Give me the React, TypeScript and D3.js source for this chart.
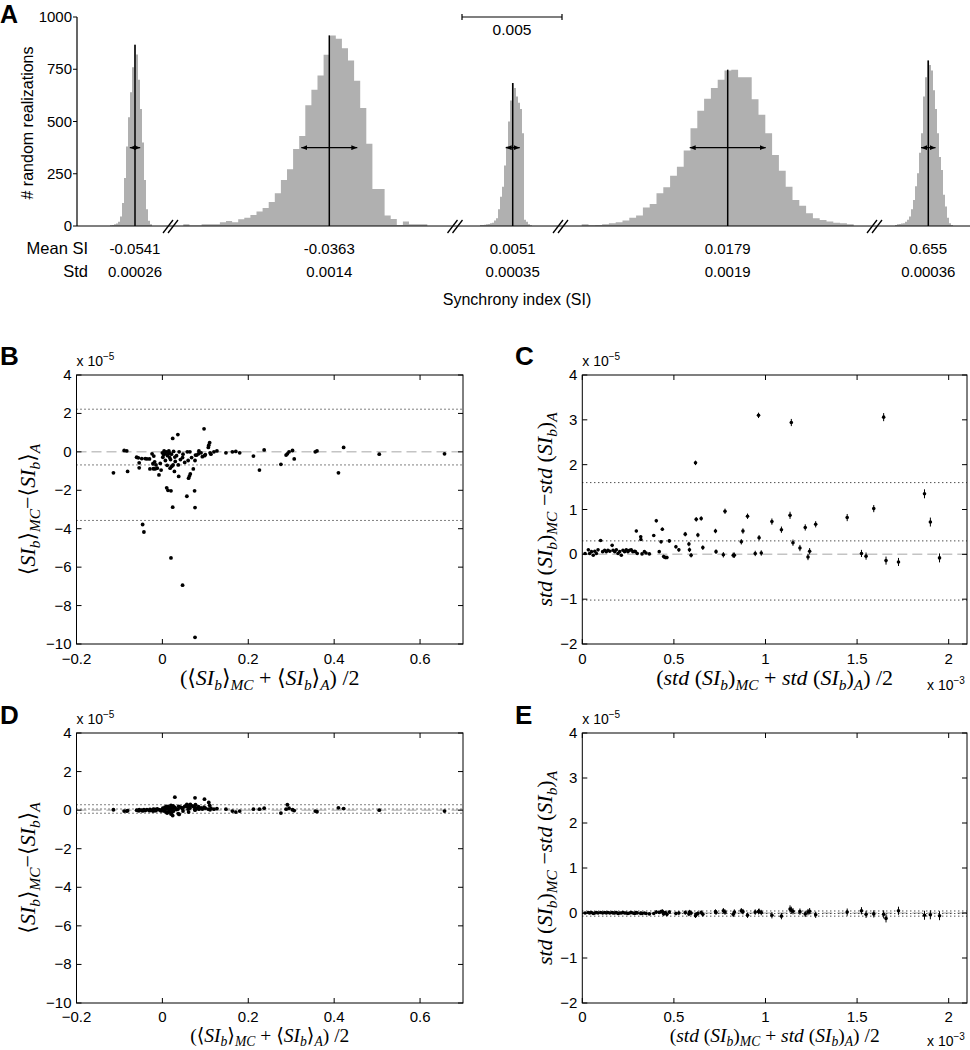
import React from 'react';
import * as d3 from 'd3';

// ---------------- Panel A data ----------------
const histMeans = [-0.0541, -0.0363, 0.0051, 0.0179, 0.655];
const histStds = [0.00026, 0.0014, 0.00035, 0.0019, 0.00036];
const histMeanLabels = ['-0.0541', '-0.0363', '0.0051', '0.0179', '0.655'];
const histStdLabels = ['0.00026', '0.0014', '0.00035', '0.0019', '0.00036'];
const binStarts = [-0.05535, -0.0436, 0.003465, 0.0106, 0.653335];
const binWidths = [0.0001, 0.000305, 0.0001, 0.00034, 0.0001];
const counts1 = [3, 5, 8, 12, 20, 45, 110, 230, 380, 520, 640, 760, 867, 820, 700, 560, 400, 220, 80, 25, 8];
const counts2 = [8, 2, 2, 8, 8, 8, 18, 24, 18, 32, 40, 53, 69, 86, 115, 157, 220, 272, 369, 431, 578, 652, 720, 819, 912, 896, 851, 792, 695, 564, 393, 177, 177, 50, 34, 5, 21, 8, 8, 8];
const counts3 = [5, 5, 6, 8, 10, 13, 16, 26, 37, 80, 140, 188, 290, 380, 500, 600, 684, 660, 620, 590, 560, 444, 30, 20, 8, 3];
const counts4 = [8, 3, 5, 8, 13, 18, 26, 40, 50, 89, 105, 157, 185, 241, 284, 361, 468, 551, 609, 660, 700, 744, 748, 712, 712, 607, 532, 444, 340, 264, 188, 125, 97, 61, 37, 29, 21, 16, 13, 8];
const counts5 = [5, 8, 10, 12, 13, 20, 30, 45, 80, 125, 190, 252, 350, 444, 620, 712, 792, 770, 744, 650, 560, 444, 330, 268, 150, 93, 40, 13, 5];
const histCounts = [counts1, counts2, counts3, counts4, counts5];
const countTicks = [0, 250, 500, 750, 1000];
const arrowLevel = 375;
const scaleBarValue = 0.005;

// ---------------- Panels B / D data: [mean avg, diff (B), diff corrected (D)] ----------------
const meanAvg = [-0.114, -0.089, -0.083, -0.081, -0.060, -0.056, -0.054, -0.054, -0.048, -0.046, -0.043, -0.040, -0.036, -0.030, -0.029, -0.024, -0.022, -0.021, -0.020, -0.018, -0.017, -0.015, -0.012, -0.008, 0.001, 0.004, 0.006, 0.007, 0.009, 0.010, 0.011, 0.013, 0.013, 0.015, 0.017, 0.018, 0.020, 0.020, 0.021, 0.024, 0.024, 0.025, 0.026, 0.028, 0.029, 0.036, 0.037, 0.038, 0.039, 0.047, 0.047, 0.048, 0.057, 0.058, 0.060, 0.061, 0.063, 0.064, 0.065, 0.072, 0.075, 0.076, 0.076, 0.076, 0.077, 0.080, 0.084, 0.085, 0.097, 0.098, 0.100, 0.107, 0.108, 0.110, 0.111, 0.113, 0.120, 0.127, 0.148, 0.163, 0.171, 0.180, 0.212, 0.226, 0.237, 0.276, 0.288, 0.291, 0.295, 0.303, 0.307, 0.356, 0.360, 0.410, 0.422, 0.505, 0.657, 0.003, 0.012, 0.016, 0.019, 0.022, 0.030, 0.033, 0.042, 0.052, 0.068, 0.090, 0.093, -0.005, -0.003, 0.000];
const meanDiffRaw = [-1.09, 0.07, 0.05, -1.02, -0.28, -0.31, -0.57, -0.83, -0.35, -3.78, -4.17, -0.35, -0.37, -0.37, -0.89, -0.10, -0.62, -0.88, -0.22, -0.52, -0.89, -0.68, -0.85, -1.20, -0.28, 0.05, -0.10, -0.45, 0.00, -1.87, -0.70, -2.00, -0.12, 0.05, -0.30, -0.85, -5.52, -2.03, -0.12, -2.88, 0.70, -0.68, 0.02, -1.02, -0.27, 0.90, -0.68, -1.28, 0.00, -6.94, -0.30, -0.12, -2.31, 0.00, -0.45, -1.37, -1.26, 0.00, -1.15, -0.89, -2.03, -2.90, -9.65, -0.45, -0.17, -0.17, -0.10, 0.05, 1.20, -0.20, -0.15, 0.23, 0.35, 0.48, -0.05, -0.12, 0.00, 0.05, -0.05, 0.00, 0.02, -0.05, -0.22, -0.95, 0.10, -0.65, -0.17, -0.10, 0.00, 0.07, -0.37, 0.00, 0.05, -1.09, 0.23, -0.12, -0.10, -0.15, -0.20, -0.05, -0.40, -0.75, -0.50, -0.20, -0.40, -0.55, -0.30, -0.05, -0.25, -0.60, -0.95, -0.05];
const meanDiffCorr = [0.02, -0.05, -0.05, -0.03, 0.00, -0.03, 0.02, -0.02, 0.00, -0.04, 0.03, -0.02, 0.02, -0.03, 0.04, 0.00, -0.05, 0.05, 0.02, -0.02, 0.04, -0.03, 0.06, 0.03, 0.10, -0.05, 0.15, 0.05, -0.10, 0.20, -0.15, 0.18, 0.08, -0.08, 0.12, 0.02, -0.20, 0.25, -0.12, -0.28, 0.10, 0.22, -0.05, 0.15, 0.67, 0.05, -0.18, 0.20, -0.22, 0.08, 0.12, -0.05, 0.30, 0.18, 0.05, -0.10, 0.25, 0.10, 0.30, 0.20, 0.15, 0.05, 0.00, 0.64, 0.28, 0.10, 0.18, 0.05, 0.15, 0.57, 0.10, 0.05, 0.40, 0.25, 0.02, 0.10, 0.05, 0.08, 0.05, -0.05, -0.10, -0.05, 0.05, 0.05, 0.10, -0.15, 0.05, 0.28, 0.10, 0.02, -0.02, -0.05, -0.08, 0.12, 0.08, 0.00, -0.05, 0.05, -0.10, 0.08, 0.12, -0.06, 0.10, 0.03, 0.15, 0.20, 0.22, 0.12, 0.06, 0.00, -0.04, 0.02];
const meanLimitsB = [2.22, -0.68, -3.57];
const meanLimitsD = [0.28, 0.06, -0.16];

// ---------------- Panels C / E data ----------------
const stdAvg = [0.015, 0.033, 0.04, 0.05, 0.06, 0.068, 0.077, 0.086, 0.10, 0.111, 0.122, 0.131, 0.14, 0.15, 0.163, 0.168, 0.177, 0.186, 0.195, 0.204, 0.213, 0.222, 0.231, 0.24, 0.249, 0.258, 0.267, 0.276, 0.285, 0.29, 0.295, 0.30, 0.319, 0.32, 0.326, 0.339, 0.348, 0.366, 0.39, 0.404, 0.42, 0.43, 0.437, 0.444, 0.453, 0.462, 0.475, 0.511, 0.527, 0.562, 0.582, 0.585, 0.594, 0.618, 0.622, 0.631, 0.649, 0.658, 0.727, 0.73, 0.77, 0.779, 0.824, 0.83, 0.868, 0.877, 0.902, 0.944, 0.962, 0.965, 0.977, 1.035, 1.087, 1.134, 1.141, 1.15, 1.188, 1.217, 1.232, 1.241, 1.274, 1.446, 1.524, 1.549, 1.591, 1.645, 1.658, 1.726, 1.868, 1.90, 1.95];
const stdDiffRaw = [0.02, 0.10, 0.02, 0.06, -0.02, 0.07, 0.02, 0.10, 0.31, 0.06, 0.09, 0.06, 0.09, 0.07, 0.20, 0.09, 0.06, 0.10, 0.02, 0.06, -0.02, 0.09, 0.06, 0.10, 0.06, 0.09, 0.10, 0.06, 0.07, 0.06, 0.52, 0.02, 0.39, 0.33, 0.01, 0.06, 0.03, 0.01, 0.42, 0.75, 0.06, 0.28, 0.56, -0.05, -0.07, -0.07, 0.30, 0.17, 0.10, 0.45, 0.23, 0.10, -0.02, 2.04, 0.78, 0.43, 0.80, 0.15, 0.52, 0.06, -0.01, 0.96, -0.02, -0.02, 0.28, 0.52, 0.85, 0.02, 3.10, 0.37, 0.03, 0.73, 0.55, 0.87, 2.94, 0.26, 0.14, 0.60, -0.06, 0.07, 0.67, 0.82, 0.02, -0.04, 1.02, 3.06, -0.14, -0.17, 1.35, 0.72, -0.08];
const stdDiffCorr = [0.00, 0.01, 0.00, 0.01, -0.01, 0.00, 0.01, 0.00, 0.01, 0.00, 0.01, 0.00, 0.01, 0.00, 0.01, 0.00, 0.00, 0.01, -0.01, 0.00, 0.00, 0.01, 0.00, 0.00, -0.01, 0.00, 0.01, 0.00, -0.01, 0.00, 0.01, 0.00, -0.01, 0.00, -0.01, 0.00, -0.01, -0.02, -0.01, 0.02, 0.01, 0.03, 0.04, -0.02, 0.01, -0.03, 0.02, -0.01, 0.00, 0.01, -0.02, 0.02, 0.00, -0.06, -0.03, -0.01, 0.01, -0.03, 0.03, 0.01, 0.05, 0.02, -0.03, 0.02, 0.05, 0.03, -0.05, 0.02, 0.03, 0.04, 0.01, -0.05, -0.07, 0.09, 0.06, 0.04, 0.03, -0.02, 0.02, 0.04, -0.04, 0.02, 0.05, -0.03, -0.02, -0.03, -0.12, 0.05, -0.05, -0.04, -0.06];
const stdErr = [0.02, 0.02, 0.02, 0.02, 0.02, 0.02, 0.02, 0.02, 0.02, 0.02, 0.02, 0.02, 0.02, 0.02, 0.02, 0.02, 0.02, 0.02, 0.02, 0.02, 0.02, 0.02, 0.02, 0.02, 0.02, 0.02, 0.02, 0.02, 0.02, 0.02, 0.03, 0.02, 0.03, 0.03, 0.02, 0.02, 0.02, 0.02, 0.03, 0.04, 0.03, 0.04, 0.04, 0.04, 0.04, 0.04, 0.04, 0.04, 0.04, 0.05, 0.05, 0.05, 0.05, 0.05, 0.05, 0.05, 0.05, 0.05, 0.05, 0.05, 0.06, 0.06, 0.06, 0.06, 0.06, 0.06, 0.06, 0.06, 0.06, 0.06, 0.06, 0.07, 0.07, 0.08, 0.08, 0.07, 0.07, 0.07, 0.07, 0.07, 0.07, 0.08, 0.08, 0.08, 0.08, 0.09, 0.09, 0.09, 0.10, 0.10, 0.10];
const stdLimitsC = [1.6, 0.3, -1.02];
const stdLimitsE = [0.045, -0.012, -0.07];

// ---------------- tick values ----------------
const meanXTicks = [-0.2, 0, 0.2, 0.4, 0.6];
const meanYTicks = [-10, -8, -6, -4, -2, 0, 2, 4];
const stdXTicks = [0, 0.5, 1, 1.5, 2];
const stdYTicks = [-2, -1, 0, 1, 2, 3, 4];

// ---------------- label parts ----------------
type Part = { t: string; it?: boolean; sub?: boolean };
const SIb: Part[] = [{ t: 'SI', it: true }, { t: 'b', it: true, sub: true }];
const meanDiffParts: Part[] = [{ t: '⟨' }, ...SIb, { t: '⟩' }, { t: 'MC', it: true, sub: true }, { t: '−' }, { t: '⟨' }, ...SIb, { t: '⟩' }, { t: 'A', it: true, sub: true }];
const meanAvgParts: Part[] = [{ t: '(⟨' }, ...SIb, { t: '⟩' }, { t: 'MC', it: true, sub: true }, { t: ' + ⟨' }, ...SIb, { t: '⟩' }, { t: 'A', it: true, sub: true }, { t: ') /2' }];
const stdDiffParts: Part[] = [{ t: 'std', it: true }, { t: ' (' }, ...SIb, { t: ')' }, { t: 'MC', it: true, sub: true }, { t: ' −' }, { t: 'std', it: true }, { t: ' (' }, ...SIb, { t: ')' }, { t: 'A', it: true, sub: true }];
const stdAvgParts: Part[] = [{ t: '(' }, { t: 'std', it: true }, { t: ' (' }, ...SIb, { t: ')' }, { t: 'MC', it: true, sub: true }, { t: ' + ' }, { t: 'std', it: true }, { t: ' (' }, ...SIb, { t: ')' }, { t: 'A', it: true, sub: true }, { t: ') /2' }];

const SANS = "'Liberation Sans', Arial, Helvetica, sans-serif";
const SERIF = "'Liberation Serif', 'DejaVu Serif', 'Times New Roman', serif";
const fmt = (v: number) => (v < 0 ? '−' + String(-v) : String(v));

function MathLabel({ parts, size, x, y, rotate, subShift = 0.24 }: { parts: Part[]; size: number; x: number; y: number; rotate?: boolean; subShift?: number }) {
  let cur = 0;
  const spans = parts.map((p, i) => {
    const target = p.sub ? size * subShift : 0;
    const dy = target - cur;
    cur = target;
    return (
      <tspan key={i} dy={dy} fontStyle={p.it ? 'italic' : 'normal'} fontSize={p.sub ? size * 0.7 : size}>
        {p.t}
      </tspan>
    );
  });
  return (
    <text
      transform={`translate(${x},${y})${rotate ? ' rotate(-90)' : ''}`}
      textAnchor="middle"
      fontFamily={SERIF}
      fontSize={size}
      style={{ whiteSpace: 'pre' }}
    >
      {spans}
    </text>
  );
}

type Box = { left: number; right: number; top: number; bottom: number };

function Frame({ box, xs, ys, xTicks, yTicks, labelGap = 20 }: { box: Box; xs: d3.ScaleLinear<number, number>; ys: d3.ScaleLinear<number, number>; xTicks: number[]; yTicks: number[]; labelGap?: number }) {
  const { left, right, top, bottom } = box;
  const tl = 5;
  return (
    <g fontFamily={SANS} fontSize={15}>
      <rect x={left} y={top} width={right - left} height={bottom - top} fill="none" stroke="#000" strokeWidth={1} />
      {xTicks.map((t) => (
        <g key={'x' + t}>
          <line x1={xs(t)} x2={xs(t)} y1={bottom} y2={bottom - tl} stroke="#000" />
          <line x1={xs(t)} x2={xs(t)} y1={top} y2={top + tl} stroke="#000" />
          <text x={xs(t)} y={bottom + labelGap} textAnchor="middle">{fmt(t)}</text>
        </g>
      ))}
      {yTicks.map((t) => (
        <g key={'y' + t}>
          <line x1={left} x2={left + tl} y1={ys(t)} y2={ys(t)} stroke="#000" />
          <line x1={right} x2={right - tl} y1={ys(t)} y2={ys(t)} stroke="#000" />
          <text x={left - 5} y={ys(t) + 5} textAnchor="end">{fmt(t)}</text>
        </g>
      ))}
    </g>
  );
}

function RefLines({ box, ys, limits }: { box: Box; ys: d3.ScaleLinear<number, number>; limits: number[] }) {
  return (
    <g>
      <line x1={box.left} x2={box.right} y1={ys(0)} y2={ys(0)} stroke="#c4c4c4" strokeWidth={1.5} strokeDasharray="10,5" />
      {limits.map((l, i) => (
        <line key={i} x1={box.left} x2={box.right} y1={ys(l)} y2={ys(l)} stroke="#000" strokeWidth={1} strokeDasharray="1,3" />
      ))}
    </g>
  );
}

function Exponent({ x, y, exp }: { x: number; y: number; exp: string }) {
  return (
    <text x={x} y={y} fontFamily={SANS} fontSize={14}>
      x 10<tspan dy={-6} fontSize={10}>{exp}</tspan>
    </text>
  );
}

export default function App() {
  // ---------- Panel A layout ----------
  const axX = 77;
  const baseY = 226;
  const topY = 17;
  const pxPerUnit = 20000;
  const segCenters = [135, 329.3, 512.7, 727.7, 928.3];
  const breakXs = [170.5, 455, 560.5, 874.5];
  const yA = d3.scaleLinear().domain([0, 1000]).range([baseY, topY]);
  const segScales = histMeans.map((m, i) =>
    d3.scaleLinear().domain([m - 1, m + 1]).range([segCenters[i] - pxPerUnit, segCenters[i] + pxPerUnit])
  );

  const area = (i: number) => {
    const xs = segScales[i];
    const c = histCounts[i];
    const pts = c.map((v, j) => ({ x: binStarts[i] + j * binWidths[i], v }));
    pts.push({ x: binStarts[i] + c.length * binWidths[i], v: c[c.length - 1] });
    return d3
      .area<{ x: number; v: number }>()
      .curve(d3.curveStepAfter)
      .x((d) => xs(d.x))
      .y0(yA(0))
      .y1((d) => yA(d.v))(pts) as string;
  };

  // ---------- scatter layout ----------
  const boxB: Box = { left: 76.5, right: 463, top: 375, bottom: 644 };
  const boxC: Box = { left: 582.3, right: 967, top: 375, bottom: 644 };
  const boxD: Box = { left: 76.5, right: 463, top: 733, bottom: 1003 };
  const boxE: Box = { left: 582.3, right: 967, top: 733, bottom: 1003 };

  const mx = (b: Box) => d3.scaleLinear().domain([-0.2, 0.7]).range([b.left, b.right]);
  const my = (b: Box) => d3.scaleLinear().domain([-10, 4]).range([b.bottom, b.top]);
  const sx = (b: Box) => d3.scaleLinear().domain([0, 2.1]).range([b.left, b.right]);
  const sy = (b: Box) => d3.scaleLinear().domain([-2, 4]).range([b.bottom, b.top]);

  const xB = mx(boxB), yB = my(boxB), xD = mx(boxD), yD = my(boxD);
  const xC = sx(boxC), yC = sy(boxC), xE = sx(boxE), yE = sy(boxE);

  const scaleBarX = 462;
  const scaleBarLen = segScales[2](histMeans[2] + scaleBarValue) - segScales[2](histMeans[2]);

  return (
    <svg width={970} height={1050} style={{ position: 'absolute', left: 0, top: 0, background: '#fff' }}>
      <defs>
        <marker id="ah" viewBox="0 0 6 5" refX={6} refY={2.5} markerWidth={6} markerHeight={5} markerUnits="userSpaceOnUse" orient="auto-start-reverse">
          <path d="M0,0 L6,2.5 L0,5 z" fill="#000" />
        </marker>
      </defs>

      {/* ================= Panel A ================= */}
      <text x={0} y={23} fontFamily={SANS} fontWeight="bold" fontSize={25}>A</text>
      {histCounts.map((_, i) => (
        <path key={'h' + i} d={area(i)} fill="#b0b0b0" stroke="none" />
      ))}
      <line x1={axX} x2={970} y1={baseY} y2={baseY} stroke="#000" strokeWidth={1.2} />
      <line x1={axX} x2={axX} y1={yA(0)} y2={yA(1000)} stroke="#000" strokeWidth={1.2} />
      <g fontFamily={SANS} fontSize={15}>
        {countTicks.map((t) => (
          <g key={t}>
            <line x1={axX - 4} x2={axX} y1={yA(t)} y2={yA(t)} stroke="#000" />
            <text x={axX - 5} y={yA(t) + 5} textAnchor="end">{t}</text>
          </g>
        ))}
      </g>
      <text transform={`translate(33,123) rotate(-90)`} textAnchor="middle" fontFamily={SANS} fontSize={16}>
        # random realizations
      </text>
      {histMeans.map((m, i) => {
        const xs = segScales[i];
        const peak = d3.max(histCounts[i]) as number;
        return (
          <g key={'m' + i}>
            <line x1={xs(m)} x2={xs(m)} y1={yA(0)} y2={yA(peak)} stroke="#000" strokeWidth={1.5} />
            <line
              x1={xs(m - histStds[i])}
              x2={xs(m + histStds[i])}
              y1={yA(arrowLevel)}
              y2={yA(arrowLevel)}
              stroke="#000"
              strokeWidth={1.3}
              markerStart="url(#ah)"
              markerEnd="url(#ah)"
            />
            <text x={xs(m)} y={254} textAnchor="middle" fontFamily={SANS} fontSize={15}>{histMeanLabels[i]}</text>
            <text x={xs(m)} y={277} textAnchor="middle" fontFamily={SANS} fontSize={15}>{histStdLabels[i]}</text>
          </g>
        );
      })}
      {breakXs.map((bx, i) => (
        <g key={'b' + i} stroke="#000" strokeWidth={1.3}>
          <line x1={bx - 7.5} y1={baseY + 7} x2={bx + 2.5} y2={baseY - 6} />
          <line x1={bx - 2.5} y1={baseY + 7} x2={bx + 7.5} y2={baseY - 6} />
        </g>
      ))}
      <text x={88} y={254} textAnchor="end" fontFamily={SANS} fontSize={16.5}>Mean SI</text>
      <text x={88} y={277} textAnchor="end" fontFamily={SANS} fontSize={16.5}>Std</text>
      <text x={517} y={305} textAnchor="middle" fontFamily={SANS} fontSize={16}>Synchrony index (SI)</text>
      {/* scale bar */}
      <g stroke="#000" strokeWidth={1.2}>
        <line x1={scaleBarX} x2={scaleBarX + scaleBarLen} y1={17} y2={17} />
        <line x1={scaleBarX} x2={scaleBarX} y1={14} y2={20} />
        <line x1={scaleBarX + scaleBarLen} x2={scaleBarX + scaleBarLen} y1={14} y2={20} />
      </g>
      <text x={scaleBarX + scaleBarLen / 2} y={35} textAnchor="middle" fontFamily={SANS} fontSize={15.5}>0.005</text>

      {/* ================= Panel B ================= */}
      <text x={0} y={365} fontFamily={SANS} fontWeight="bold" fontSize={26}>B</text>
      <RefLines box={boxB} ys={yB} limits={meanLimitsB} />
      {meanAvg.map((v, i) => (
        <circle key={'pb' + i} cx={xB(v)} cy={yB(meanDiffRaw[i])} r={1.9} fill="#000" />
      ))}
      <Frame box={boxB} xs={xB} ys={yB} xTicks={meanXTicks} yTicks={meanYTicks} />
      <Exponent x={boxB.left} y={366} exp="−5" />
      <MathLabel parts={meanDiffParts} size={22} x={35} y={(boxB.top + boxB.bottom) / 2} rotate />
      <MathLabel parts={meanAvgParts} size={22} x={(boxB.left + boxB.right) / 2} y={685} />

      {/* ================= Panel C ================= */}
      <text x={515} y={365} fontFamily={SANS} fontWeight="bold" fontSize={26}>C</text>
      <RefLines box={boxC} ys={yC} limits={stdLimitsC} />
      {stdAvg.map((v, i) => (
        <g key={'pc' + i}>
          <line x1={xC(v)} x2={xC(v)} y1={yC(stdDiffRaw[i] - stdErr[i])} y2={yC(stdDiffRaw[i] + stdErr[i])} stroke="#000" strokeWidth={1} />
          <circle cx={xC(v)} cy={yC(stdDiffRaw[i])} r={1.8} fill="#000" />
        </g>
      ))}
      <Frame box={boxC} xs={xC} ys={yC} xTicks={stdXTicks} yTicks={stdYTicks} />
      <Exponent x={boxC.left} y={366} exp="−5" />
      <Exponent x={927} y={690} exp="−3" />
      <MathLabel parts={stdDiffParts} size={22} x={552} y={(boxC.top + boxC.bottom) / 2} rotate />
      <MathLabel parts={stdAvgParts} size={22} x={(boxC.left + boxC.right) / 2} y={685} />

      {/* ================= Panel D ================= */}
      <text x={0} y={724} fontFamily={SANS} fontWeight="bold" fontSize={26}>D</text>
      <RefLines box={boxD} ys={yD} limits={meanLimitsD} />
      {meanAvg.map((v, i) => (
        <circle key={'pd' + i} cx={xD(v)} cy={yD(meanDiffCorr[i])} r={1.9} fill="#000" />
      ))}
      <Frame box={boxD} xs={xD} ys={yD} xTicks={meanXTicks} yTicks={meanYTicks} labelGap={19} />
      <Exponent x={boxD.left} y={724} exp="−5" />
      <MathLabel parts={meanDiffParts} size={22} x={35} y={(boxD.top + boxD.bottom) / 2} rotate />
      <MathLabel parts={meanAvgParts} size={19.5} x={(boxD.left + boxD.right) / 2} y={1042} subShift={0.2} />

      {/* ================= Panel E ================= */}
      <text x={515} y={724} fontFamily={SANS} fontWeight="bold" fontSize={26}>E</text>
      <RefLines box={boxE} ys={yE} limits={stdLimitsE} />
      {stdAvg.map((v, i) => (
        <g key={'pe' + i}>
          <line x1={xE(v)} x2={xE(v)} y1={yE(stdDiffCorr[i] - stdErr[i])} y2={yE(stdDiffCorr[i] + stdErr[i])} stroke="#000" strokeWidth={1} />
          <circle cx={xE(v)} cy={yE(stdDiffCorr[i])} r={1.8} fill="#000" />
        </g>
      ))}
      <Frame box={boxE} xs={xE} ys={yE} xTicks={stdXTicks} yTicks={stdYTicks} labelGap={19} />
      <Exponent x={boxE.left} y={724} exp="−5" />
      <Exponent x={927} y={1046} exp="−3" />
      <MathLabel parts={stdDiffParts} size={22} x={552} y={(boxE.top + boxE.bottom) / 2} rotate />
      <MathLabel parts={stdAvgParts} size={19.5} x={(boxE.left + boxE.right) / 2} y={1042} subShift={0.2} />
    </svg>
  );
}
